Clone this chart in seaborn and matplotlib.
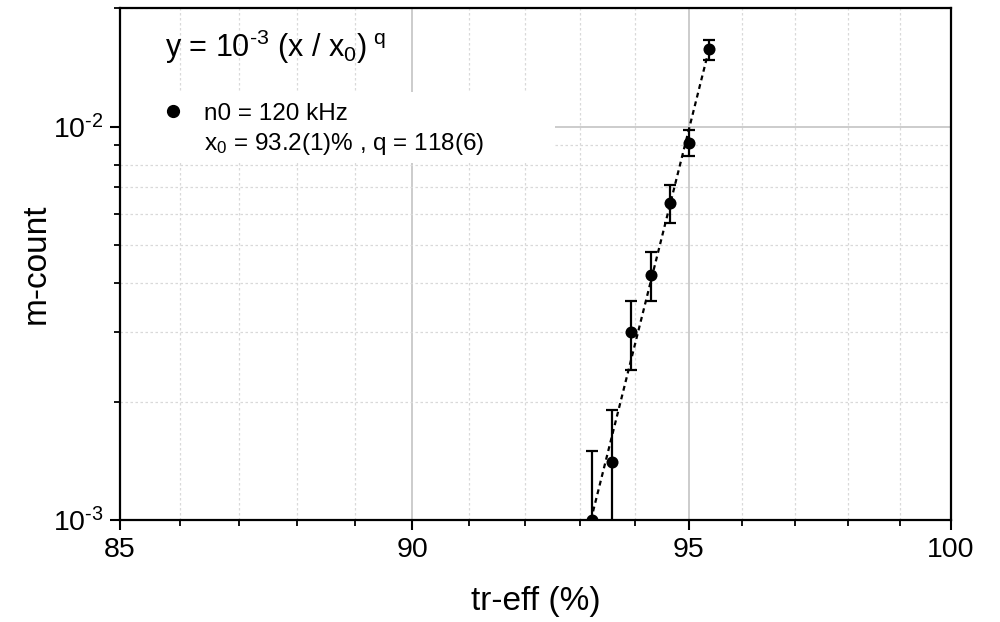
import numpy as np
import pandas as pd
import matplotlib
matplotlib.use("Agg")
import matplotlib.pyplot as plt
import seaborn as sns
from matplotlib.ticker import FixedLocator, NullFormatter, FuncFormatter, LogLocator
from matplotlib.lines import Line2D
from matplotlib.patches import Rectangle

# ---- data ----
tr_eff = [93.22, 93.58, 93.94, 94.30, 94.66, 95.01, 95.37]
m_count = [1.0e-3, 1.4e-3, 3.0e-3, 4.2e-3, 6.4e-3, 9.1e-3, 1.57e-2]
m_err = [0.5e-3, 0.5e-3, 0.6e-3, 0.6e-3, 0.7e-3, 0.7e-3, 0.9e-3]
fit_x = [93.2, 95.34]
fit_y = [1.0e-3, 1.5e-2]
x_major = [85, 90, 95, 100]
x_minor = [86, 87, 88, 89, 91, 92, 93, 94, 96, 97, 98, 99]
formula_text = r"y = 10$^{\text{-}3}$ (x / x$_0$)$^{\,\,q}$"
legend_line1 = "n0 = 120 kHz"
legend_line2 = r"x$_0$ = 93.2(1)% , q = 118(6)"
x_label = "tr-eff (%)"
y_label = "m-count"

df = pd.DataFrame({"x": tr_eff, "y": m_count, "err": m_err})
df_fit = pd.DataFrame({"x": fit_x, "y": fit_y})

sns.set_theme(style="ticks")
plt.rcParams["font.family"] = ["Liberation Sans", "DejaVu Sans"]
plt.rcParams["mathtext.fontset"] = "custom"
plt.rcParams["mathtext.rm"] = "Liberation Sans"
plt.rcParams["mathtext.it"] = "Liberation Sans"
plt.rcParams["mathtext.default"] = "regular"
for k in ["text.color", "axes.labelcolor", "xtick.color", "ytick.color", "axes.edgecolor"]:
    plt.rcParams[k] = "black"

fig = plt.figure(figsize=(10, 6.22), dpi=100)
ax = fig.add_axes([0.120, 0.164, 0.831, 0.823])
ax.set_xscale("log")
ax.set_yscale("log")
ax.set_axisbelow(True)

# fit line
sns.lineplot(data=df_fit, x="x", y="y", ax=ax, color="black", lw=1.6,
             linestyle=(0, (2.2, 1.8)), zorder=3, legend=False)
# error bars
ax.errorbar(df["x"], df["y"], yerr=df["err"], fmt="none", ecolor="black",
            elinewidth=1.6, capsize=4, capthick=1.6, zorder=4)
# points
sns.scatterplot(data=df, x="x", y="y", ax=ax, color="black", s=75,
                edgecolor="black", linewidth=0, zorder=5, legend=False)

ax.set_xlim(85, 100)
ax.set_ylim(1e-3, 2.0e-2)

ax.xaxis.set_major_locator(FixedLocator(x_major))
ax.xaxis.set_minor_locator(FixedLocator(x_minor))
ax.xaxis.set_major_formatter(FuncFormatter(lambda v, p: f"{v:g}"))
ax.xaxis.set_minor_formatter(NullFormatter())
ax.yaxis.set_major_locator(LogLocator(base=10))
ax.yaxis.set_minor_locator(LogLocator(base=10, subs=np.arange(2, 10)))
ax.yaxis.set_major_formatter(FuncFormatter(
    lambda v, p: r"10$^{\text{-}%d}$" % abs(int(round(np.log10(v))))))
ax.yaxis.set_minor_formatter(NullFormatter())

ax.grid(which="major", color="#c8c8c8", linestyle="-", linewidth=1.3)
ax.grid(which="minor", color="#d9d9d9", linestyle=(0, (2, 2)), linewidth=0.9)

for s in ax.spines.values():
    s.set_color("black")
    s.set_linewidth(1.6)
    s.set_visible(True)

ax.tick_params(which="major", direction="out", length=7.5, width=1.5,
               labelsize=20.5, colors="black", pad=4)
ax.tick_params(which="minor", direction="out", length=4.5, width=1.3, colors="black")
ax.tick_params(axis="x", which="major", pad=5)
ax.tick_params(top=False, right=False, which="both")

ax.set_xlabel(x_label, fontsize=24, labelpad=16)
ax.set_ylabel(y_label, fontsize=24, labelpad=1)

# white box behind legend (covers gridlines)
ax.add_patch(Rectangle((0.0, 0.697), 0.523, 0.140, transform=ax.transAxes,
                       facecolor="white", edgecolor="none", zorder=0.8))

ax.text(0.054, 0.924, formula_text, transform=ax.transAxes, fontsize=22,
        va="center", ha="left", zorder=6)

handles = [Line2D([], [], marker="o", color="black", linestyle="none", markersize=8.5),
           Line2D([], [], linestyle="none", marker=None)]
leg = ax.legend(handles, [legend_line1, legend_line2], loc="upper left",
                bbox_to_anchor=(0.049, 0.815), frameon=False, fontsize=17.5,
                handlelength=1.0, handletextpad=0.8, labelspacing=0.25,
                borderpad=0, borderaxespad=0)
leg.set_zorder(7)

fig.savefig("out.png", dpi=100)
